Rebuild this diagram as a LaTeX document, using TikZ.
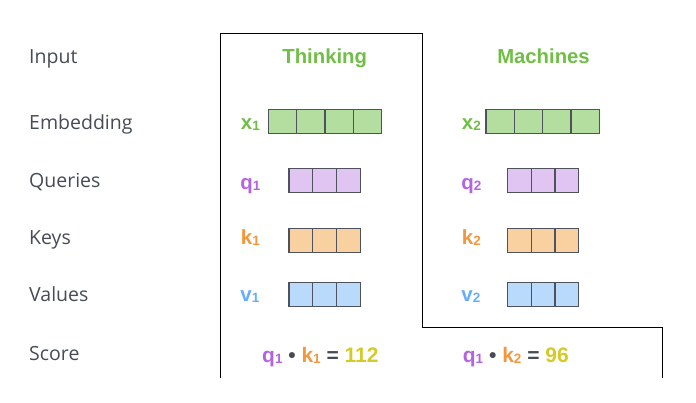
\documentclass[tikz,border=0pt]{standalone}
\usepackage{fontspec}
\setmainfont{Liberation Sans}
\newfontfamily\rowfont{Open Sans}
\definecolor{labelgray}{RGB}{70,75,85}
\definecolor{cellgray}{RGB}{77,82,92}
\definecolor{wordgreen}{RGB}{112,190,70}
\definecolor{embfill}{RGB}{179,222,160}
\definecolor{qcol}{RGB}{180,100,225}
\definecolor{qfill}{RGB}{224,196,242}
\definecolor{kcol}{RGB}{245,150,60}
\definecolor{kfill}{RGB}{249,208,160}
\definecolor{vcol}{RGB}{100,175,250}
\definecolor{vfill}{RGB}{185,218,250}
\definecolor{scorecol}{RGB}{212,202,40}
\newcommand{\subidx}[1]{\raisebox{-1pt}{\fontsize{13.5}{15}\selectfont #1}}

\begin{document}
\begin{tikzpicture}[x=1pt,y=-1pt,
    rowlabel/.style={anchor=base west, inner sep=0, text=labelgray,
      font=\rowfont\fontsize{19.5}{23}\selectfont},
    word/.style={anchor=base, inner sep=0, text=wordgreen,
      font=\bfseries\fontsize{20.3}{24}\selectfont},
    vecname/.style={anchor=base east, inner sep=0,
      font=\bfseries\fontsize{20.5}{24}\selectfont},
    cell/.style={draw=cellgray, line width=1.2pt, inner sep=0, outer sep=0,
      minimum height=24pt},
    embcell/.style={cell, fill=embfill, minimum width=28.35pt},
    qcell/.style={cell, fill=qfill, minimum width=23.8pt},
    kcell/.style={cell, fill=kfill, minimum width=23.8pt},
    vcell/.style={cell, fill=vfill, minimum width=23.8pt},
    scoretext/.style={anchor=base west, inner sep=0, text=labelgray,
      font=\bfseries\fontsize{21}{24}\selectfont}]
    \useasboundingbox (0,0) rectangle (696,403);

    % row names
    \node[rowlabel] (input) at (29,63.3) {Input};
    \node[rowlabel] (embedding) at (29,129.3) {Embedding};
    \node[rowlabel] (queries) at (29,187.3) {Queries};
    \node[rowlabel] (keys) at (29,244.3) {Keys};
    \node[rowlabel] (values) at (29,301.7) {Values};
    \node[rowlabel] (score) at (29,360) {Score};

    % frame round the first word
    \draw[line width=1pt] (220,378) |- (422,34) |- (662,327) -- (662,378);

    % words
    \node[word] (thinking) at (324.7,63.3) {Thinking};
    \node[word] (machines) at (543.5,63.3) {Machines};

    % vector names
    \node[vecname, text=wordgreen] (x1) at (260,129.3) {x\subidx{1}};
    \node[vecname, text=qcol] (q1) at (260.5,189.5) {q\subidx{1}};
    \node[vecname, text=kcol] (k1) at (260,245) {k\subidx{1}};
    \node[vecname, text=vcol] (v1) at (259.5,301.5) {v\subidx{1}};
    \node[vecname, text=wordgreen] (x2) at (481,129.3) {x\subidx{2}};
    \node[vecname, text=qcol] (q2) at (481.5,189.5) {q\subidx{2}};
    \node[vecname, text=kcol] (k2) at (481,245) {k\subidx{2}};
    \node[vecname, text=vcol] (v2) at (480.5,301.5) {v\subidx{2}};

    % vector cells
    \foreach \i in {0,...,3} {
      \node[embcell] (x1-\i) at (282.5+28.35*\i,121.3) {};
      \node[embcell] (x2-\i) at (500.2+28.35*\i,121.3) {};
    }
    \foreach \i in {0,...,2} {
      \node[qcell] (q1-\i) at (300.9+23.8*\i,180.3) {};
      \node[kcell] (k1-\i) at (300.9+23.8*\i,240.3) {};
      \node[vcell] (v1-\i) at (300.9+23.8*\i,294.3) {};
      \node[qcell] (q2-\i) at (519.2+23.8*\i,180.3) {};
      \node[kcell] (k2-\i) at (519.2+23.8*\i,240.3) {};
      \node[vcell] (v2-\i) at (519.2+23.8*\i,294.3) {};
    }

    % scores
    \node[scoretext] (score1) at (262,362.3)
      {\textcolor{qcol}{q\subidx{1}}\ \textbullet\ \textcolor{kcol}{k\subidx{1}} = \textcolor{scorecol}{112}};
    \node[scoretext] (score2) at (462.7,362.3)
      {\textcolor{qcol}{q\subidx{1}}\ \textbullet\ \textcolor{kcol}{k\subidx{2}} = \textcolor{scorecol}{96}};
  \end{tikzpicture}
\end{document}
